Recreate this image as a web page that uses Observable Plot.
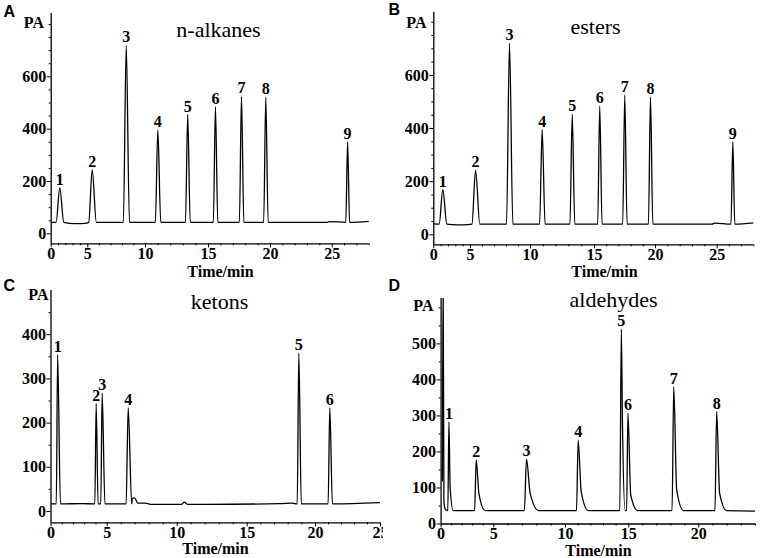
<!DOCTYPE html>
<html><head><meta charset="utf-8">
<script src="https://cdn.jsdelivr.net/npm/d3@7"></script>
<script src="https://cdn.jsdelivr.net/npm/@observablehq/plot@0.6"></script>
<style>
html,body{margin:0;padding:0;background:#fff;}
#fig{position:relative;width:765px;height:558px;overflow:hidden;background:#fff;}
.panel{position:absolute;}
</style></head><body><div id="fig"></div>
<script>
// ---------- DATA ----------
// Panel A: n-alkanes
const aTitle = "n-alkanes";
const aPeakLabel  = ["1","2","3","4","5","6","7","8","9"];
const aPeakTime   = [1.17, 5.38, 8.33, 10.98, 13.35, 15.56, 17.66, 19.62, 26.25];
const aPeakHeight = [176, 245, 720, 397, 456, 486, 525, 522, 352];
const aPeakLeft   = [0.5, 0.3, 0.25, 0.2, 0.18, 0.17, 0.17, 0.17, 0.15];
const aPeakRight  = [0.55, 0.36, 0.28, 0.23, 0.2, 0.19, 0.19, 0.19, 0.16];
const aBase = 44;
const aKnotTime  = [0, 3.2, 4.6, 7.5, 24.6, 24.8, 28];
const aKnotValue = [44, 39, 40, 44, 44, 47, 48];
const aXTicks = [0, 5, 10, 15, 20, 25];
const aYTicks = [0, 200, 400, 600];

// Panel B: esters
const bTitle = "esters";
const bPeakLabel  = ["1","2","3","4","5","6","7","8","9"];
const bPeakTime   = [1.23, 5.42, 8.25, 10.91, 13.26, 15.43, 17.48, 19.59, 26.28];
const bPeakHeight = [170, 243, 721, 396, 454, 484, 526, 519, 351];
const bPeakLeft   = [0.5, 0.3, 0.25, 0.2, 0.18, 0.17, 0.17, 0.17, 0.15];
const bPeakRight  = [0.55, 0.36, 0.28, 0.23, 0.2, 0.19, 0.19, 0.19, 0.16];
const bBase = 40;
const bKnotTime  = [0, 3.2, 4.6, 7.5, 24.6, 24.8, 28];
const bKnotValue = [41, 37, 38, 40, 40, 44, 45];
const bXTicks = [0, 5, 10, 15, 20, 25];
const bYTicks = [0, 200, 400, 600];

// Panel C: ketons
const cTitle = "ketons";
const cPeakLabel  = ["1","2","3","4","5","6"];
const cPeakTime   = [0.59, 4.02, 4.55, 6.5, 18.78, 21.1];
const cPeakHeight = [355, 244, 268, 235, 358, 235];
const cPeakLeft   = [0.12, 0.12, 0.12, 0.15, 0.12, 0.13];
const cPeakRight  = [0.25, 0.17, 0.25, 0.25, 0.18, 0.2];
const cBase = 17;
const cKnotTime  = [0, 2.8, 6.8, 6.95, 7.2, 7.7, 8.2, 10.3, 10.5, 10.75, 12, 17.4, 18.3, 25];
const cKnotValue = [17, 18, 30, 31, 19, 19, 16, 16, 21, 16, 16, 18, 19, 20];
const cXTicks = [0, 5, 10, 15, 20, 25];
const cYTicks = [0, 100, 200, 300, 400];

// Panel D: aldehydes
const dTitle = "aldehydes";
const dPeakLabel  = ["1","2","3","4","5","6","7","8"];
const dPeakTime   = [0.74, 3.33, 7.28, 11.0, 14.41, 14.93, 18.21, 21.26];
const dPeakHeight = [284, 178, 180, 233, 541, 308, 381, 312];
const dPeakLeft   = [0.1, 0.15, 0.15, 0.13, 0.12, 0.1, 0.12, 0.12];
const dPeakRight  = [0.4, 0.85, 0.85, 0.8, 0.3, 0.7, 0.7, 0.7];
const dPeakKnee   = [100, 85, 85, 90, 280, 80, 95, 85];
const dBase = 37;
const dKnotTime  = [0.12, 0.19, 0.27, 0.42, 0.55, 24];
const dKnotValue = [120, 700, 60, 40, 38, 36];
const dXTicks = [0, 5, 10, 15, 20];
const dYTicks = [0, 100, 200, 300, 400, 500];

// ---------- LAYOUT ----------
const layouts = [
  {left: 0, top: 0, width: 382, height: 275,
   xDomain: [0, 5, 10, 15, 20, 25, 28], xRange: [50.7, 87.3, 145, 208, 270, 331.7, 368.7],
   yDomain: [-38, 842], mt: 13, mb: 31.7, minorY: 50,
   letter: "A", letterXY: [3, 16], titleXY: [218, 36], paXY: [43.5, 27], timeXY: [220, 276]},
  {left: 383, top: 0, width: 382, height: 275,
   xDomain: [0, 5, 10, 15, 20, 25, 28], xRange: [50.3, 87, 147, 211, 272, 333.7, 370.3],
   yDomain: [-37.7, 838], mt: 11.7, mb: 30.7, minorY: 50,
   letter: "B", letterXY: [5, 14], titleXY: [212, 33], paXY: [43, 27], timeXY: [221, 276]},
  {left: 0, top: 279, width: 382, height: 279,
   xDomain: [0, 5, 10, 15, 20, 25], xRange: [50.5, 106.7, 176.7, 246.7, 315, 380],
   yDomain: [-25.6, 500], mt: 11, mb: 35.7, minorY: 50,
   letter: "C", letterXY: [3, 11], titleXY: [219, 29], paXY: [48, 20], timeXY: [215, 274]},
  {left: 383, top: 279, width: 382, height: 279,
   xDomain: [0, 5, 10, 15, 20, 24], xRange: [57.6, 110.3, 182, 245.3, 315.3, 372],
   yDomain: [0, 626], mt: 19, mb: 34.5, minorY: 50,
   letter: "D", letterXY: [5, 11], titleXY: [230, 27], paXY: [50, 31], timeXY: [215, 276]}
];

const series = [
  {title: aTitle, label: aPeakLabel, time: aPeakTime, height: aPeakHeight, l: aPeakLeft, r: aPeakRight, base: aBase, kt: aKnotTime, kv: aKnotValue, xt: aXTicks, yt: aYTicks},
  {title: bTitle, label: bPeakLabel, time: bPeakTime, height: bPeakHeight, l: bPeakLeft, r: bPeakRight, base: bBase, kt: bKnotTime, kv: bKnotValue, xt: bXTicks, yt: bYTicks},
  {title: cTitle, label: cPeakLabel, time: cPeakTime, height: cPeakHeight, l: cPeakLeft, r: cPeakRight, base: cBase, kt: cKnotTime, kv: cKnotValue, xt: cXTicks, yt: cYTicks},
  {title: dTitle, label: dPeakLabel, time: dPeakTime, height: dPeakHeight, l: dPeakLeft, r: dPeakRight, knee: dPeakKnee, base: dBase, kt: dKnotTime, kv: dKnotValue, xt: dXTicks, yt: dYTicks}
];

function trace(s) {
  const pts = s.kt.map((t, i) => ({t, v: s.kv[i]}));
  s.time.forEach((t, i) => {
    pts.push({t: t - s.l[i], v: s.base});
    pts.push({t, v: s.height[i]});
    if (s.knee) pts.push({t: t + 0.3 * s.r[i], v: s.knee[i]});
    pts.push({t: t + s.r[i], v: s.base});
  });
  return pts.sort((a, b) => a.t - b.t);
}

const serif = "'Liberation Serif', 'Times New Roman', serif";
const fig = document.getElementById("fig");

series.forEach((s, k) => {
  const L = layouts[k];
  const R0 = L.xRange[0], R1 = L.xRange[L.xRange.length - 1];
  const ml = R0;
  const mr = L.width - R1;
  const x0 = L.xDomain[0], x1 = L.xDomain[L.xDomain.length - 1];
  // piecewise time axis (the printed tick labels are unevenly spaced)
  const warp = d3.scaleLinear().domain(L.xDomain).range(L.xRange);
  const minorX = d3.range(Math.ceil(x0), Math.floor(x1) + 1).filter(v => !s.xt.includes(v));
  const minorY = d3.range(0, L.yDomain[1], L.minorY).filter(v => !s.yt.includes(v));
  const peaks = s.time.map((t, i) => ({t, v: s.height[i], label: s.label[i]}));
  const txt = (str, xy, opts) => Plot.text([str], {
    frameAnchor: "top-left", dx: xy[0] - ml, dy: xy[1] - L.mt, lineAnchor: "bottom", ...opts
  });
  const svg = Plot.plot({
    width: L.width, height: L.height,
    marginLeft: ml, marginRight: mr, marginTop: L.mt, marginBottom: L.mb,
    x: {transform: (t) => warp(t), domain: [R0, R1], range: [R0, R1]},
    y: {domain: L.yDomain},
    style: {fontFamily: serif, fontSize: "16px", fontWeight: "bold", color: "black", background: "white", overflow: "visible"},
    marks: [
      Plot.axisX(s.xt, {tickSize: 4, tickPadding: 0, label: null, stroke: "black", tickFormat: (d) => String(d)}),
      Plot.axisX(minorX, {tickSize: 2, tickFormat: () => "", label: null, stroke: "black"}),
      Plot.axisY(s.yt, {tickSize: 4, tickPadding: 1, label: null, stroke: "black"}),
      Plot.axisY(minorY, {tickSize: 2, tickFormat: () => "", label: null, stroke: "black"}),
      Plot.ruleY([L.yDomain[0]], {stroke: "black", strokeWidth: 1.3}),
      Plot.ruleX([x0], {stroke: "black", strokeWidth: 1.3}),
      Plot.line(trace(s), {x: "t", y: "v", curve: "monotone-x", stroke: "black", strokeWidth: 1.3, clip: true}),
      Plot.text(peaks, {x: "t", y: "v", text: "label", dy: -3, lineAnchor: "bottom", fontSize: 16, fontWeight: "bold", fill: "black"}),
      txt(s.title, L.titleXY, {textAnchor: "middle", fontSize: 22, fontWeight: "normal", fill: "black"}),
      txt("PA", L.paXY, {textAnchor: "end", fontSize: 16, fontWeight: "bold", fill: "black"}),
      txt("Time/min", L.timeXY, {textAnchor: "middle", fontSize: 16, fontWeight: "bold", fill: "black"}),
      txt(L.letter, L.letterXY, {textAnchor: "start", fontSize: 16, fontWeight: "bold", fontFamily: "'Liberation Sans', Arial, sans-serif", fill: "black"})
    ]
  });
  const div = document.createElement("div");
  div.className = "panel";
  div.style.left = L.left + "px";
  div.style.top = L.top + "px";
  div.appendChild(svg);
  fig.appendChild(div);
});
</script>
</body></html>
